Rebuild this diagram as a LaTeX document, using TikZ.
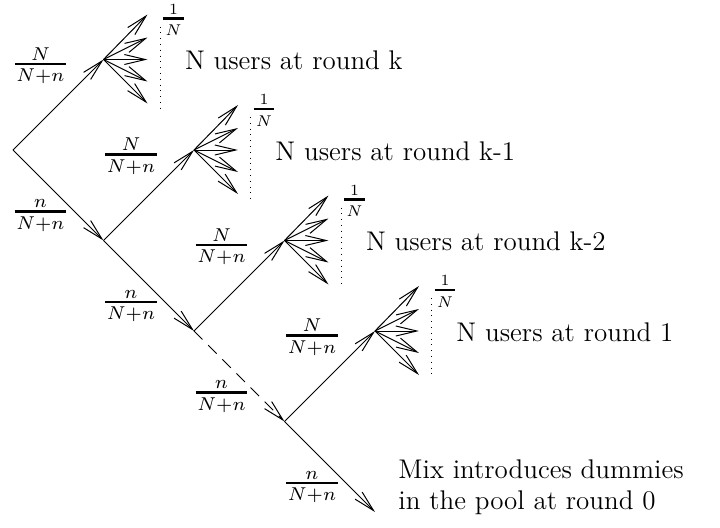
\documentclass[tikz,border=0pt]{standalone}
\usetikzlibrary{arrows.meta}
\DeclareFontShape{OML}{cmm}{m}{it}{<-> cmmi7}{\skewchar\font'177}
\DeclareFontShape{OT1}{cmr}{m}{n}{<-> cmr7}{}
\begin{document}
\begin{tikzpicture}[x=0.5pt,y=-0.5pt,
  line width=0.5pt,
  arr/.style={-{Straight Barb[length=10.5pt,width=5pt,line width=0.5pt]}},
  dotline/.style={dash pattern=on 0.5pt off 2.4pt},
  dashline/.style={dash pattern=on 6pt off 4pt},
  fpart/.style={inner sep=0pt,anchor=base,font=\fontsize{9.3}{11}\selectfont},
  opart/.style={inner sep=0pt,anchor=base,font=\fontsize{7.8}{9}\selectfont},
  fbar/.style={line width=1.4pt,shorten <=-0.6pt,shorten >=-0.6pt},
  obar/.style={line width=1.1pt,shorten <=-1pt,shorten >=-1pt},
  txt/.style={inner sep=0pt,anchor=base west,font=\fontsize{13.5}{16.5}\selectfont}]
\useasboundingbox (0,0) rectangle (720,527);
% main junctions
\coordinate (A) at (13,150);
\coordinate (B1) at (103.5,240.5);
\coordinate (B2) at (194,331);
\coordinate (B3) at (284.5,421.5);
\coordinate (E) at (375,512);
\coordinate (F1) at (103.5,59.5);
\coordinate (F2) at (194,150);
\coordinate (F3) at (284.5,240.5);
\coordinate (F4) at (375,331);
% branches
\draw[arr] (A) -- (F1);
\draw[arr] (A) -- (B1);
\draw[arr] (B1) -- (F2);
\draw[arr] (B1) -- (B2);
\draw[arr] (B2) -- (F3);
\draw[arr,dashline] (B2) -- (B3);
\draw[arr] (B3) -- (F4);
\draw[arr] (B3) -- (E);
% fans
\foreach \f/\len in {F1/53, F2/53, F3/43, F4/43}{
  \foreach \dy [count=\i] in {-45,-22,0,22,44}{
    \coordinate (\f t\i) at ([shift={(44,\dy)}]\f);
    \draw[arr] (\f) -- (\f t\i);
  }
  \coordinate (\f d1) at ([shift={(57,-33)}]\f);
  \coordinate (\f d2) at ([shift={(57,\len)}]\f);
  \draw[dotline] (\f d1) -- (\f d2);
  % 1/N
  \coordinate (\f pb) at ([shift={(70,-41)}]\f);
  \node[opart] (\f pn) at ([shift={(0,-4.3)}]\f pb) {$1$};
  \node[opart] (\f pd) at ([shift={(0,17)}]\f pb) {$N$};
  \draw[obar] (\f pd.west |- \f pb) -- (\f pd.east |- \f pb);
}
% fan texts
\node[txt] (T1) at ([shift={(81,10)}]F1) {N users at round k};
\node[txt] (T2) at ([shift={(81,10)}]F2) {N users at round k-1};
\node[txt] (T3) at ([shift={(81,10)}]F3) {N users at round k-2};
\node[txt] (T4) at ([shift={(81,10)}]F4) {N users at round 1};
% probability labels N/(N+n)
\foreach \f [count=\i] in {F1,F2,F3,F4}{
  \coordinate (Ub\i) at ([shift={(-63,4.5)}]\f);
  \node[fpart] (Un\i) at ([shift={(0,-4)}]Ub\i) {$N$};
  \node[fpart] (Ud\i) at ([shift={(0,17.7)}]Ub\i) {$N{+}n$};
  \draw[fbar] (Ud\i.west |- Ub\i) -- (Ud\i.east |- Ub\i);
}
% probability labels n/(N+n)
\foreach \b [count=\i] in {B1,B2,B3,E}{
  \coordinate (Db\i) at ([shift={(-63,-29)}]\b);
  \node[fpart] (Dn\i) at ([shift={(0,-4)}]Db\i) {$n$};
  \node[fpart] (Dd\i) at ([shift={(0,17.7)}]Db\i) {$N{+}n$};
  \draw[fbar] (Dd\i.west |- Db\i) -- (Dd\i.east |- Db\i);
}
% final text
\node[txt] (M1) at (398,478) {Mix introduces dummies};
\node[txt] (M2) at (398,509) {in the pool at round 0};
\end{tikzpicture}
\end{document}
